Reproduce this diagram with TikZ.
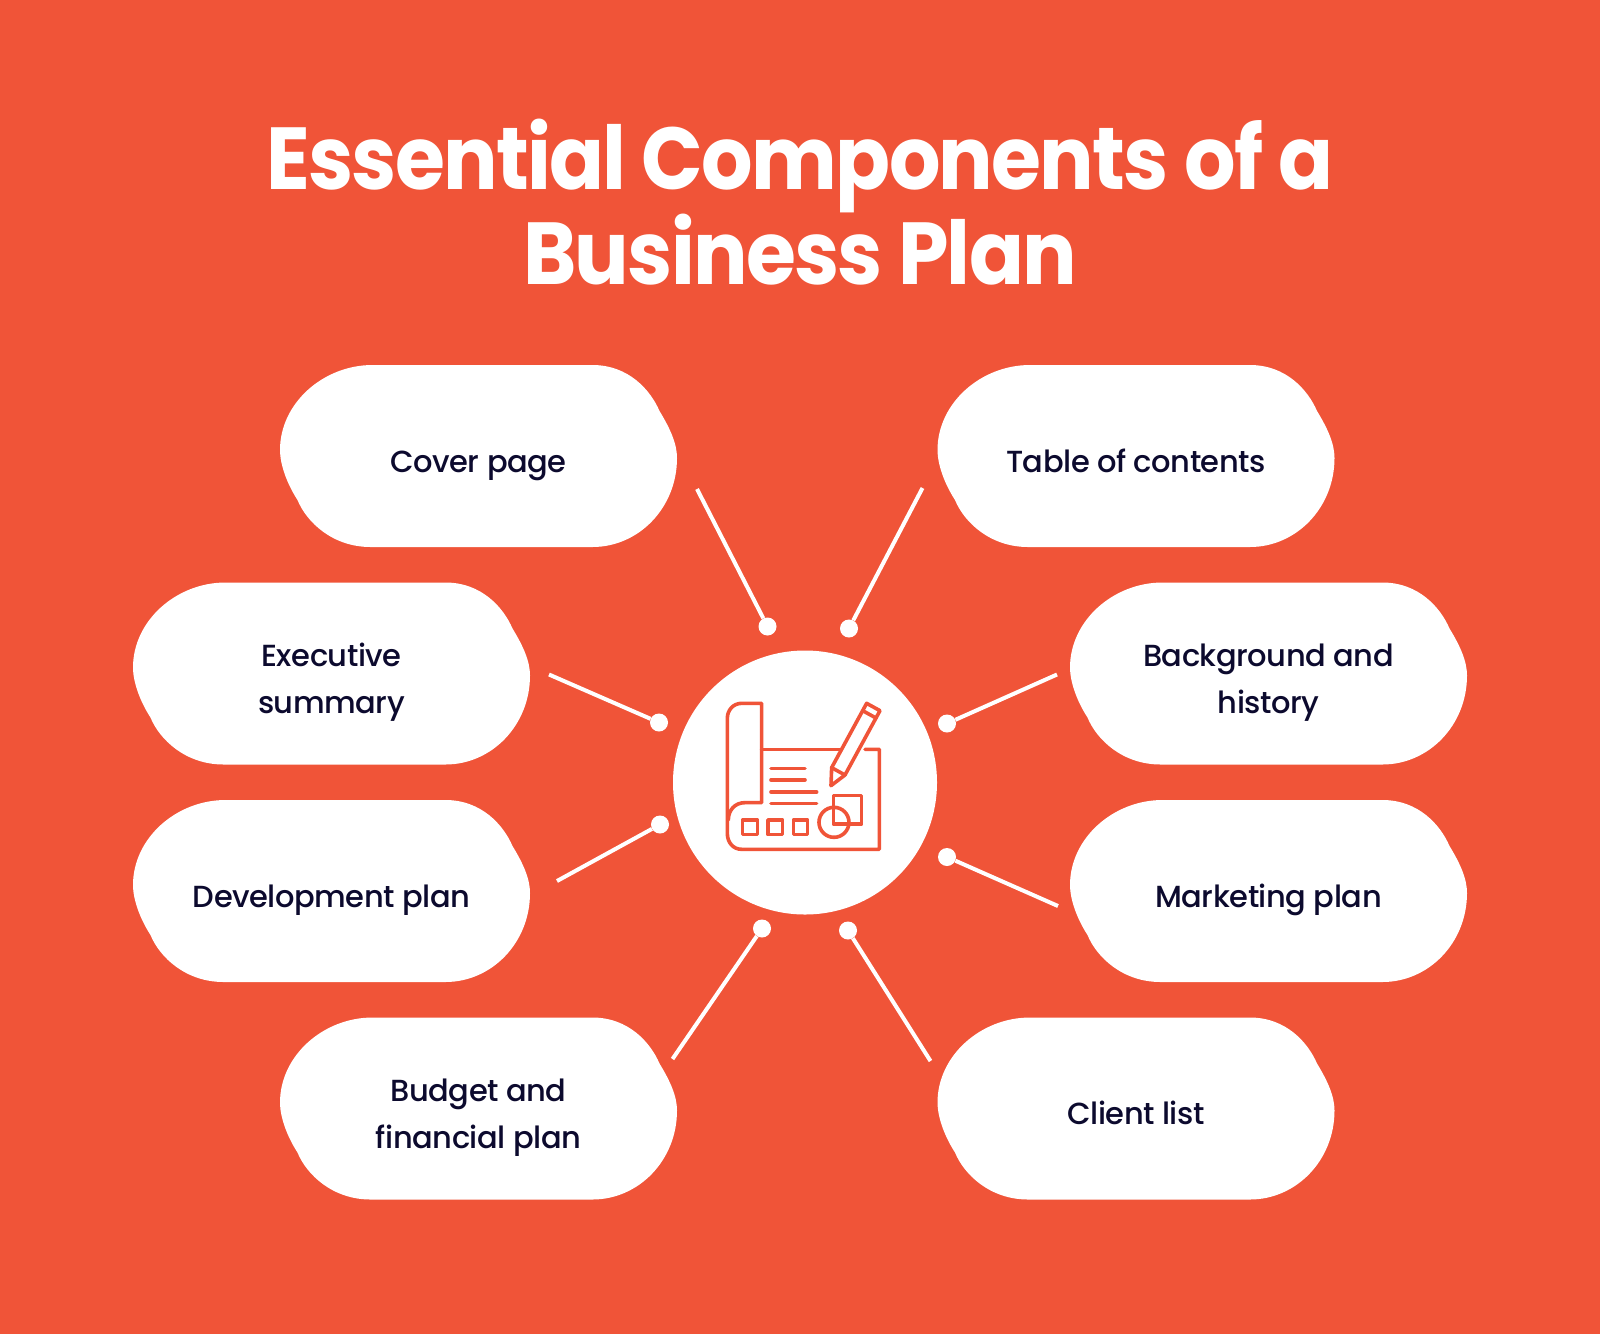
\documentclass[tikz,border=0pt]{standalone}
\usepackage{fontspec}
\setmainfont{Poppins}
\newfontfamily\labelfont[LetterSpace=-1.5]{Poppins Medium}
\newfontfamily\titlefont[LetterSpace=-2,FakeStretch=0.92]{Poppins}
\definecolor{planorange}{HTML}{F05438}
\definecolor{planink}{HTML}{0C0A2E}
\tikzset{
	blobtext/.style={text=planink,font=\labelfont\fontsize{30.5}{47}\selectfont,align=center,inner sep=0pt},
	blob/.pic={
		\fill[white] (-106,-91) -- (114,-91) .. controls (150,-91) and (172,-66) .. (181,-45)
			.. controls (192,-27) and (198.5,-12) .. (198.5,2) .. controls (198.5,52) and (160,91) .. (114,91)
			-- (-108,91) .. controls (-146,91) and (-172,66) .. (-181,44)
			.. controls (-192,27) and (-198.5,8) .. (-198.5,-6) .. controls (-198.5,-53) and (-155,-91) .. (-106,-91) -- cycle;
		\node[blobtext] (-text) at (0,7) {#1};
	},
	spot/.style={circle,fill=white,minimum size=18pt,inner sep=0pt},
	spoke/.style={draw=white,line width=4pt},
	iconline/.style={draw=planorange,line width=3.6pt,line cap=round,line join=round}
}
\begin{document}
\begin{tikzpicture}[x=1pt,y=-1pt]
\fill[planorange] (0,0) rectangle (1600,1334);
\useasboundingbox (0,0) rectangle (1600,1334);
\node [text=white,font=\titlefont\bfseries\fontsize{88}{92}\selectfont,align=center,inner sep=0pt] (title) at (800,202) {Essential Components of a\\Business Plan};

\pic (cover) at (478.5,456) {blob={\strut Cover page}};
\pic (contents) at (1136,456) {blob={\strut Table of contents}};
\pic (summary) at (331.5,673.5) {blob={\strut Executive\\\strut summary}};
\pic (history) at (1268.5,673.5) {blob={\strut Background and\\\strut history}};
\pic (development) at (331.5,891) {blob={\strut Development plan}};
\pic (marketing) at (1268.5,891) {blob={\strut Marketing plan}};
\pic (budget) at (478.5,1108.5) {blob={\strut Budget and\\\strut financial plan}};
\pic (clients) at (1136,1108.5) {blob={\strut Client list}};

\node [circle,fill=white,minimum size=264pt,inner sep=0pt] (hub) at (805,782.5) {};

\node [spot] (dotcover) at (767.5,626.5) {};
\node [spot] (dotcontents) at (849,628.5) {};
\node [spot] (dotsummary) at (659,722.5) {};
\node [spot] (dothistory) at (947,723.5) {};
\node [spot] (dotdevelopment) at (660,824.5) {};
\node [spot] (dotmarketing) at (947,857) {};
\node [spot] (dotbudget) at (762,928.5) {};
\node [spot] (dotclients) at (848,930.5) {};

\coordinate (endcover) at (697,489);
\coordinate (endcontents) at (922.5,488);
\coordinate (endsummary) at (549,674.5);
\coordinate (endhistory) at (1057,674.5);
\coordinate (enddevelopment) at (557,881);
\coordinate (endmarketing) at (1058,906);
\coordinate (endbudget) at (672.5,1059);
\coordinate (endclients) at (930.5,1061);

\draw [spoke] (endcover) -- (dotcover);
\draw [spoke] (endcontents) -- (dotcontents);
\draw [spoke] (endsummary) -- (dotsummary);
\draw [spoke] (endhistory) -- (dothistory);
\draw [spoke] (enddevelopment) -- (dotdevelopment);
\draw [spoke] (endmarketing) -- (dotmarketing);
\draw [spoke] (endbudget) -- (dotbudget);
\draw [spoke] (endclients) -- (dotclients);

\begin{scope}[shift={(640,620)},x=0.3333pt,y=-0.3333pt,every path/.style={iconline}]
	\draw (365,388) -- (365,250) -- (305,250) .. controls (280,250) and (262,270) .. (262,295) -- (262,640)
		.. controls (262,668) and (280,688) .. (305,688) -- (718,688) -- (718,388) -- (675,388);
	\draw (365,388) -- (605,388);
	\draw (365,388) -- (365,548) -- (315,548) .. controls (285,548) and (265,570) .. (265,600);
	\draw (393,446) -- (495,446);
	\draw (393,480) -- (495,480);
	\draw (393,516) -- (530,516);
	\draw (393,550) -- (530,550);
	\draw (308,600) rectangle (352,644);
	\draw (384,600) rectangle (428,644);
	\draw (460,600) rectangle (503,644);
	\draw (582,607) circle [radius=15pt];
	\draw (580,527) rectangle (665,612);
	\draw (573,497) -- (575,443) -- (680,250) -- (720,272) -- (615,465) -- cycle;
	\draw (575,443) -- (615,465);
	\draw (668,272) -- (708,294);
\end{scope}
\end{tikzpicture}
\end{document}
